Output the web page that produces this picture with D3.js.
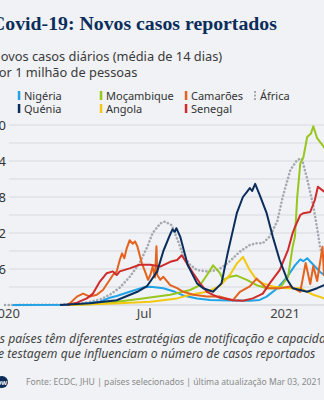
<!DOCTYPE html>
<html><head><meta charset="utf-8">
<script src="https://cdn.jsdelivr.net/npm/d3@7"></script>
<style>
html,body{margin:0;padding:0;background:#f0f2f5;overflow:hidden}
svg{display:block}
</style></head>
<body>
<svg id="chart" width="324" height="400"></svg>
<script>
const seriesNames = ["Nigéria","Quénia","Moçambique","Angola","Camarões","Senegal","África"];
const yTicks = [6,12,18,24,30];
const xTickDates = ["2020-01-01","2020-07-01","2021-01-01"];
const xTickLabels = ["2020","Jul","2021"];

const nigeria = [["2020-01-11",0],["2020-03-26",0.05],["2020-04-12",0.2],["2020-05-04",0.55],["2020-05-17",1.2],["2020-05-26",1.5],["2020-06-12",2.2],["2020-06-29",2.9],["2020-07-09",3.05],["2020-07-26",2.8],["2020-08-10",2.2],["2020-08-21",1.6],["2020-09-08",1.1],["2020-09-25",0.85],["2020-10-21",0.75],["2020-11-16",0.7],["2020-11-29",0.85],["2020-12-08",1.4],["2020-12-22",2.8],["2021-01-04",4.7],["2021-01-14",6.6],["2021-01-21",7.6],["2021-01-25",7.3],["2021-01-30",7.8],["2021-02-07",6.7],["2021-02-16",5.5],["2021-02-25",4.6],["2021-03-03",4.0]];
const quenia = [["2020-03-13",0],["2020-04-21",0.3],["2020-05-26",0.8],["2020-06-22",2.2],["2020-07-05",3.2],["2020-07-18",5.6],["2020-07-26",9.0],["2020-08-04",11.8],["2020-08-07",12.6],["2020-08-10",12.2],["2020-08-12",12.8],["2020-08-17",11.4],["2020-08-27",6.6],["2020-09-08",3.6],["2020-09-16",2.8],["2020-09-29",2.2],["2020-10-10",3.6],["2020-10-18",8.6],["2020-10-30",15.3],["2020-11-07",18.0],["2020-11-12",18.8],["2020-11-16",19.5],["2020-11-19",19.0],["2020-11-23",20.2],["2020-11-29",18.3],["2020-12-08",15.3],["2020-12-16",11.4],["2020-12-25",7.5],["2021-01-04",4.2],["2021-01-11",2.8],["2021-01-30",2.2],["2021-02-12",2.8],["2021-02-21",3.3],["2021-03-03",3.6]];
const mocambique = [["2020-03-26",0],["2020-05-04",0.2],["2020-05-26",0.55],["2020-06-29",1.1],["2020-08-04",1.7],["2020-08-30",2.5],["2020-09-12",3.3],["2020-09-21",5.0],["2020-09-29",6.6],["2020-10-08",5.3],["2020-10-12",4.2],["2020-10-21",4.7],["2020-10-30",4.9],["2020-11-12",4.2],["2020-11-25",3.3],["2020-12-08",2.8],["2020-12-25",2.8],["2021-01-05",4.7],["2021-01-11",9.7],["2021-01-14",11.4],["2021-01-17",18.0],["2021-01-21",23.6],["2021-01-25",24.6],["2021-01-30",28.0],["2021-02-04",28.6],["2021-02-07",29.8],["2021-02-12",27.8],["2021-02-21",26.3],["2021-03-03",24.5]];
const angola = [["2020-03-26",0],["2020-05-30",0.3],["2020-07-09",0.55],["2020-08-13",1.1],["2020-08-30",1.7],["2020-09-21",2.2],["2020-10-08",3.2],["2020-10-21",5.0],["2020-10-30",6.9],["2020-11-07",8.0],["2020-11-16",5.8],["2020-11-25",4.2],["2020-12-03",3.6],["2020-12-16",3.1],["2021-01-04",2.8],["2021-01-21",2.8],["2021-02-07",1.7],["2021-02-21",1.1],["2021-03-03",0.9]];
const camaroes = [["2020-03-22",0],["2020-03-26",0.3],["2020-04-04",1.4],["2020-04-12",1.9],["2020-04-21",1.4],["2020-04-30",1.7],["2020-05-08",2.5],["2020-05-17",4.2],["2020-05-21",5.0],["2020-05-26",5.6],["2020-05-30",7.5],["2020-06-02",8.6],["2020-06-05",7.8],["2020-06-08",9.4],["2020-06-12",10.8],["2020-06-16",10.2],["2020-06-19",10.6],["2020-06-22",9.8],["2020-06-28",6.9],["2020-07-02",5.6],["2020-07-06",4.2],["2020-07-09",5.0],["2020-07-12",6.4],["2020-07-15",4.6],["2020-07-17",9.8],["2020-07-18",5.0],["2020-07-22",4.2],["2020-07-26",4.7],["2020-08-04",3.3],["2020-08-13",2.8],["2020-08-21",2.2],["2020-09-03",1.7],["2020-09-21",1.4],["2020-10-08",1.4],["2020-10-25",0.8],["2020-11-03",2.2],["2020-11-16",3.1],["2020-11-25",4.4],["2020-12-08",2.8],["2020-12-25",2.8],["2021-01-08",3.1],["2021-01-21",2.2],["2021-01-28",7.0],["2021-02-03",3.5],["2021-02-07",6.5],["2021-02-12",4.0],["2021-02-19",9.7],["2021-02-21",5.0],["2021-03-03",6.0]];
const senegal = [["2020-03-22",0],["2020-04-04",0.4],["2020-04-17",1.1],["2020-04-25",1.9],["2020-05-04",3.9],["2020-05-13",5.3],["2020-05-21",5.6],["2020-05-26",5.0],["2020-05-30",5.6],["2020-06-12",6.1],["2020-06-25",6.7],["2020-07-09",6.7],["2020-07-22",6.4],["2020-08-04",7.2],["2020-08-13",7.5],["2020-08-19",8.3],["2020-08-26",6.9],["2020-09-03",5.3],["2020-09-12",3.6],["2020-09-21",2.2],["2020-09-29",1.7],["2020-10-08",1.2],["2020-10-25",0.8],["2020-11-07",0.7],["2020-11-20",1.1],["2020-12-03",1.9],["2020-12-12",3.6],["2020-12-25",5.8],["2021-01-05",9.2],["2021-01-11",12.0],["2021-01-14",13.0],["2021-01-21",15.0],["2021-01-25",15.3],["2021-02-03",15.5],["2021-02-09",17.5],["2021-02-13",19.7],["2021-02-19",19.1],["2021-02-25",18.5],["2021-03-03",18.0]];
const africa = [["2020-01-01",0],["2020-03-13",0.05],["2020-04-12",0.3],["2020-05-04",0.9],["2020-05-17",1.7],["2020-05-30",2.9],["2020-06-12",4.7],["2020-06-25",7.0],["2020-07-05",9.7],["2020-07-12",12.0],["2020-07-22",13.6],["2020-07-28",13.9],["2020-08-06",13.3],["2020-08-14",10.7],["2020-08-21",8.3],["2020-08-30",6.7],["2020-09-08",5.8],["2020-09-21",5.6],["2020-10-04",5.8],["2020-10-12",6.4],["2020-10-21",7.3],["2020-11-03",8.9],["2020-11-16",10.0],["2020-11-25",10.3],["2020-12-03",10.3],["2020-12-12",11.4],["2020-12-22",14.0],["2020-12-29",18.0],["2021-01-08",22.5],["2021-01-17",24.2],["2021-01-23",24.4],["2021-01-30",21.0],["2021-02-07",16.5],["2021-02-13",12.0],["2021-02-16",9.5],["2021-02-21",7.5],["2021-03-03",5.5]];

const colors = {"Nigéria":"#21a2e6","Quénia":"#0b2d5c","Moçambique":"#97c61d","Angola":"#f2c811","Camarões":"#e3621d","Senegal":"#cf2b2b","África":"#a6aab0"};
const dataByName = {"Nigéria":nigeria,"Quénia":quenia,"Moçambique":mocambique,"Angola":angola,"Camarões":camaroes,"Senegal":senegal,"África":africa};
const drawOrder = ["África","Nigéria","Moçambique","Angola","Camarões","Senegal","Quénia"];

const parse = d3.timeParse("%Y-%m-%d");
const svg = d3.select("#chart");
const sans = "'Noto Sans', sans-serif";
const L = -9;

svg.append("rect").attr("width",324).attr("height",400).attr("fill","#f0f2f5");

svg.append("text").attr("x",L).attr("y",30).text("Covid-19: Novos casos reportados")
  .attr("font-family","'Liberation Serif', serif").attr("font-weight","bold").attr("font-size",19.8).attr("fill","#0b2d5a");
svg.append("text").attr("x",L).attr("y",61).text("Novos casos diários (média de 14 dias)")
  .attr("font-family",sans).attr("font-size",12.8).attr("fill","#3a3a3a");
svg.append("text").attr("x",L).attr("y",77).text("por 1 milhão de pessoas")
  .attr("font-family",sans).attr("font-size",12.8).attr("fill","#3a3a3a");

const x = d3.scaleTime().domain([parse("2020-01-01"), parse("2021-01-01")]).range([5, 285]);
const y = d3.scaleLinear().domain([0, 30]).range([305, 125]);

// legend
const legendPos = [[19,100],[19,113],[101,100],[101,113],[186,100],[186,113],[255,100]];
const lg = svg.append("g");
seriesNames.forEach((n,i)=>{
  const [lx,ly] = legendPos[i];
  if(n==="África"){
    lg.append("line").attr("x1",lx).attr("x2",lx).attr("y1",ly-9).attr("y2",ly).attr("stroke",colors[n])
      .attr("stroke-width",2).attr("stroke-dasharray","2,1.5");
  } else {
    lg.append("rect").attr("x",lx-1.2).attr("y",ly-9).attr("width",2.5).attr("height",9).attr("fill",colors[n]);
  }
  lg.append("text").attr("x",lx+5).attr("y",ly).text(n).attr("font-family",sans).attr("font-size",11).attr("fill","#333");
});

// grid
const gridVals = d3.range(3, 31, 3);
svg.append("g").selectAll("line").data(gridVals).join("line")
  .attr("x1",9).attr("x2",340).attr("y1",d=>y(d)).attr("y2",d=>y(d))
  .attr("stroke","#d8dbe0").attr("stroke-width",1);
svg.append("line").attr("x1",9).attr("x2",340).attr("y1",y(0)).attr("y2",y(0)).attr("stroke","#c9ccd1").attr("stroke-width",1);

svg.append("g").selectAll("text").data(yTicks).join("text")
  .attr("x",6).attr("y",d=>y(d)).attr("dy","0.35em").attr("text-anchor","end")
  .text(d=>d).attr("font-family",sans).attr("font-size",13).attr("fill","#333");

svg.append("g").selectAll("text").data(xTickDates).join("text")
  .attr("x",(d)=>x(parse(d))).attr("y",318).attr("text-anchor","middle")
  .text((d,i)=>xTickLabels[i]).attr("font-family",sans).attr("font-size",13).attr("fill","#444");

// lines
const line = d3.line().x(d=>x(parse(d[0]))).y(d=>y(d[1])).curve(d3.curveLinear);
const lines = svg.append("g");
drawOrder.forEach(n=>{
  const p = lines.append("path").datum(dataByName[n]).attr("d",line).attr("fill","none")
    .attr("stroke",colors[n]).attr("stroke-width",2).attr("stroke-linejoin","round");
  if(n==="África") p.attr("stroke-dasharray","0.1,3.6").attr("stroke-linecap","round").attr("stroke-width",2.6);
});

// footnote
svg.append("text").attr("x",L).attr("y",343).text("Os países têm diferentes estratégias de notificação e capacidade")
  .attr("font-family",sans).attr("font-style","italic").attr("font-size",12.2).attr("fill","#444");
svg.append("text").attr("x",L).attr("y",358).text("de testagem que influenciam o número de casos reportados")
  .attr("font-family",sans).attr("font-style","italic").attr("font-size",12.2).attr("fill","#444");

// logo + source
svg.append("circle").attr("cx",2).attr("cy",382).attr("r",6).attr("fill","#0b2d5a");
svg.append("text").attr("x",2).attr("y",384.5).attr("text-anchor","middle").text("DW")
  .attr("font-family",sans).attr("font-weight","bold").attr("font-size",6).attr("fill","#fff");
svg.append("text").attr("x",26).attr("y",385).text("Fonte: ECDC, JHU | países selecionados | última atualização Mar 03, 2021")
  .attr("font-family",sans).attr("font-size",8.6).attr("fill","#8a8a8a");
</script>
</body></html>
